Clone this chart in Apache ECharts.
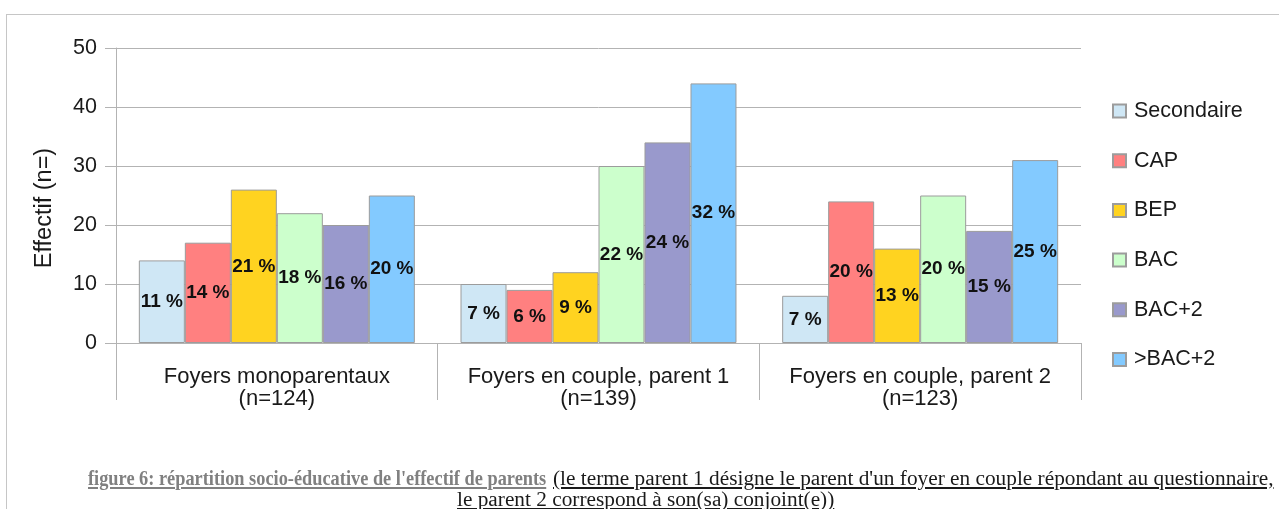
<!DOCTYPE html>
<html>
<head>
<meta charset="utf-8">
<script src="https://cdn.jsdelivr.net/npm/echarts@6/dist/echarts.min.js"></script>
<style>
  html, body { margin: 0; padding: 0; background: #ffffff; }
  #wrap { position: relative; width: 1279px; height: 509px; overflow: hidden; }
  #frame { position: absolute; left: 6px; top: 14px; width: 1300px; height: 600px; border: 1px solid #c6c6c6; box-sizing: border-box; }
  #chart { position: absolute; left: 0; top: 0; width: 1279px; height: 509px; }
  .cap { position: absolute; font-family: "Liberation Serif", "DejaVu Serif", serif; font-size: 21.3px; line-height: 21px; white-space: nowrap; color: #1a1a1a; text-decoration: underline; }
  .cap.bold { font-size: 21.5px; font-weight: bold; color: #808080; transform: scaleX(0.853); transform-origin: 0 50%; }
</style>
</head>
<body>
<div id="wrap">
  <div id="frame"></div>
  <div id="chart"></div>
  <div class="cap bold" style="left:88px; top:468px;">figure 6: répartition socio-éducative de l'effectif de parents</div>
  <div class="cap" style="left:553px; top:468px;">(le terme parent 1 désigne le parent d'un foyer en couple répondant au questionnaire,</div>
  <div class="cap" style="left:457px; top:489px;">le parent 2 correspond à son(sa) conjoint(e))</div>
</div>
<script>
const categories = ["Foyers monoparentaux\n(n=124)", "Foyers en couple, parent 1\n(n=139)", "Foyers en couple, parent 2\n(n=123)"];
const seriesNames = ["Secondaire", "CAP", "BEP", "BAC", "BAC+2", ">BAC+2"];
const secondaire = [14, 10, 8];
const cap = [17, 9, 24];
const bep = [26, 12, 16];
const bac = [22, 30, 25];
const bac2 = [20, 34, 19];
const supBac2 = [25, 44, 31];
const pctSecondaire = ["11 %", "7 %", "7 %"];
const pctCap = ["14 %", "6 %", "20 %"];
const pctBep = ["21 %", "9 %", "13 %"];
const pctBac = ["18 %", "22 %", "20 %"];
const pctBac2 = ["16 %", "24 %", "15 %"];
const pctSupBac2 = ["20 %", "32 %", "25 %"];
const yTicks = [0, 10, 20, 30, 40, 50];
const yName = "Effectif (n=)";

const colors = ["#cfe7f5", "#ff8080", "#ffd320", "#ccffcc", "#9999cc", "#83caff"];
const values = [secondaire, cap, bep, bac, bac2, supBac2];
const pcts = [pctSecondaire, pctCap, pctBep, pctBac, pctBac2, pctSupBac2];

const FONT = '"Liberation Sans", Arial, sans-serif';
const chart = echarts.init(document.getElementById('chart'), null, { renderer: 'canvas' });

const series = seriesNames.map((name, i) => ({
  name: name,
  type: 'bar',
  data: values[i],
  barGap: '0%',
  barCategoryGap: '14.2%',
  itemStyle: { color: colors[i], borderColor: '#9c9c9c', borderWidth: 1 },
  label: {
    show: true,
    position: 'inside',
    formatter: (p) => pcts[i][p.dataIndex],
    fontFamily: FONT,
    fontSize: 19,
    fontWeight: 'bold',
    color: '#111111'
  },
  emphasis: { disabled: true },
  animation: false
}));

chart.setOption({
  animation: false,
  textStyle: { fontFamily: FONT },
  grid: { left: 116, right: 198, top: 48, bottom: 166, containLabel: false },
  legend: {
    orient: 'vertical',
    left: 1107,
    top: 95,
    itemWidth: 13,
    itemHeight: 13,
    itemGap: 27.7,
    icon: 'rect',
    data: seriesNames,
    textStyle: { fontFamily: FONT, fontSize: 21.5, color: '#1a1a1a', lineHeight: 18, padding: [0, 0, 0, 3] },
    selectedMode: false
  },
  graphic: [{
    type: 'text',
    x: 45,
    y: 208,
    rotation: Math.PI / 2,
    style: { text: yName, fontFamily: FONT, fontSize: 23.5, fill: '#1a1a1a', align: 'center', verticalAlign: 'middle' },
    silent: true
  }],
  xAxis: {
    type: 'category',
    data: categories,
    axisLine: { lineStyle: { color: '#b3b3b3', width: 1 } },
    axisTick: { show: true, length: 57, interval: 0, lineStyle: { color: '#b3b3b3' } },
    axisLabel: { fontFamily: FONT, fontSize: 22, color: '#1a1a1a', lineHeight: 22, margin: 23, interval: 0 },
    splitLine: { show: false }
  },
  yAxis: {
    type: 'value',
    min: yTicks[0],
    max: yTicks[yTicks.length - 1],
    interval: 10,
    axisLine: { show: true, lineStyle: { color: '#b3b3b3', width: 1 } },
    axisTick: { show: true, length: 11, lineStyle: { color: '#b3b3b3' } },
    axisLabel: { fontFamily: FONT, fontSize: 21.5, color: '#1a1a1a', margin: 19 },
    splitLine: { show: true, lineStyle: { color: '#b3b3b3', width: 1 } }
  },
  series: series
});
</script>
</body>
</html>
